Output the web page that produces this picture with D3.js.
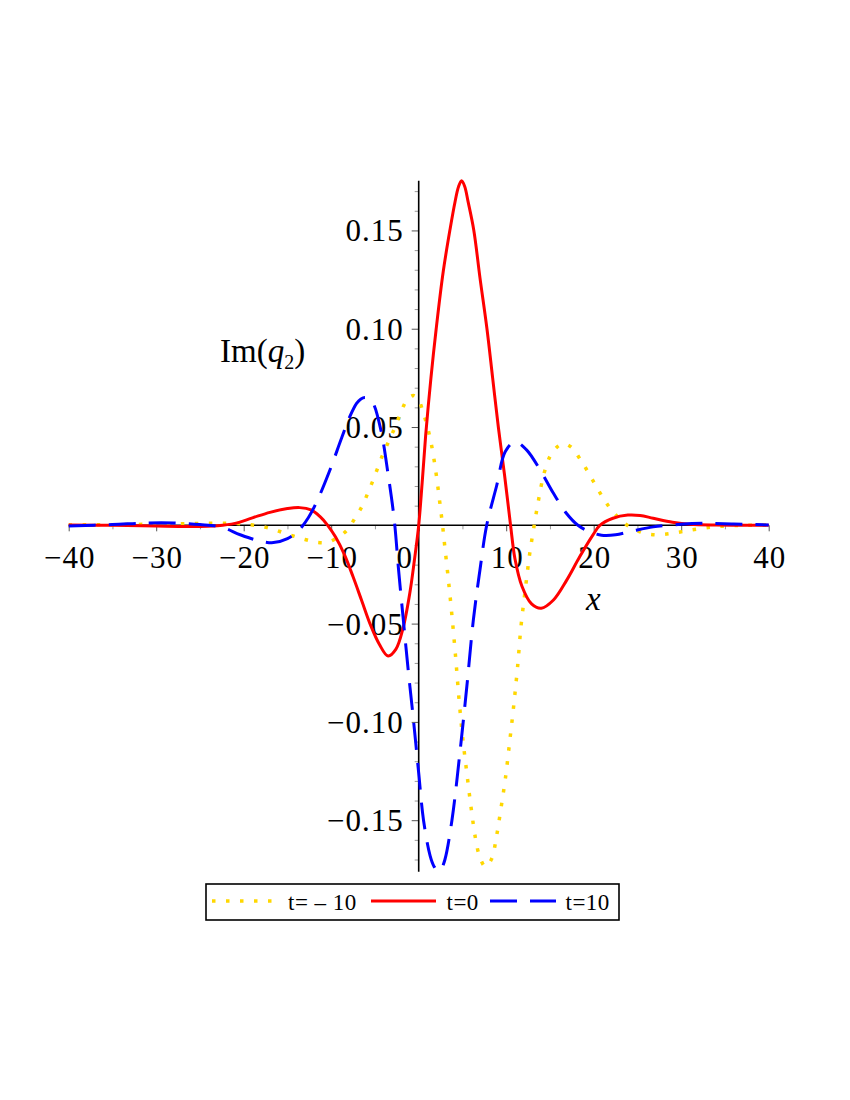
<!DOCTYPE html>
<html><head><meta charset="utf-8">
<script src="https://cdn.jsdelivr.net/npm/d3@7"></script>
<style>body{margin:0;background:#fff} svg{display:block}</style>
</head><body><svg id="c" width="850" height="1100"></svg>
<script>
// ---- data ----
const xMajorTicks = [-40, -30, -20, -10, 0, 10, 20, 30, 40];
const xMinorTicks = [-35, -25, -15, -5, 5, 15, 25, 35];
const yMajorTicks = [-0.15, -0.10, -0.05, 0.05, 0.10, 0.15];
const yMinorTicks = [-0.17,-0.16,-0.14,-0.13,-0.12,-0.11,-0.09,-0.08,-0.07,-0.06,-0.04,-0.03,-0.02,-0.01,
                     0.01,0.02,0.03,0.04,0.06,0.07,0.08,0.09,0.11,0.12,0.13,0.14,0.16,0.17];
const seriesNames = ["t= \u2013 10", "t=0", "t=10"];

// t = -10 (dotted, gold)
const tMinus10 = [
  [-40,0.0002],[-35,0.0003],[-30,0.0006],[-26,0.0009],[-23,0.0011],[-21,0.0010],[-19,0.0002],
  [-17,-0.0015],[-15,-0.0045],[-13,-0.0072],[-11.5,-0.0087],[-10.3,-0.0085],[-9.2,-0.0060],
  [-8.2,-0.0025],[-7.3,0.0035],[-6.5,0.0095],[-5.9,0.0155],[-5.3,0.0220],[-4.7,0.0290],
  [-4.1,0.0360],[-3.4,0.0430],[-2.7,0.0500],[-2.0,0.0580],[-1.3,0.0640],[-0.6,0.0660],
  [0.0,0.0637],[0.5,0.0575],[1.0,0.0500],[1.5,0.0400],[2.0,0.0260],[2.4,0.0120],[2.7,0.0010],
  [3.0,-0.0115],[3.4,-0.0280],[3.8,-0.0460],[4.2,-0.0660],[4.6,-0.0880],[5.0,-0.1070],
  [5.5,-0.1260],[6.0,-0.1440],[6.5,-0.1595],[7.0,-0.1690],[7.6,-0.1735],[8.3,-0.1700],
  [8.9,-0.1580],[9.4,-0.1440],[9.9,-0.1290],[10.4,-0.1100],[10.9,-0.0900],[11.3,-0.0720],
  [11.7,-0.0510],[12.2,-0.0320],[12.7,-0.0140],[13.2,0.0000],[13.7,0.0130],[14.3,0.0260],
  [15.0,0.0350],[15.8,0.0398],[16.6,0.0415],[17.5,0.0395],[18.4,0.0340],[19.3,0.0275],
  [20.2,0.0205],[21.1,0.0138],[22.0,0.0080],[23.0,0.0032],[24.0,-0.0005],[25.6,-0.0038],
  [27.2,-0.0048],[28.8,-0.0042],[30.4,-0.0030],[32,-0.0018],[34,-0.0007],[37,0.0000],[40,0.0001]
];

// t = 0 (solid, red)
const t0 = [
  [-40,0.0002],[-35,0.0000],[-30,-0.0004],[-26,-0.0006],[-23,-0.0002],[-21,0.0010],[-19,0.0038],
  [-17,0.0066],[-15,0.0085],[-13.6,0.0090],[-12.3,0.0078],[-11.3,0.0045],[-10.4,0.0000],
  [-9.5,-0.0060],[-8.5,-0.0148],[-7.5,-0.0262],[-6.5,-0.0385],[-5.5,-0.0508],[-4.5,-0.0605],
  [-3.5,-0.0665],[-2.6,-0.0630],[-1.8,-0.0525],[-1.0,-0.0340],[-0.5,-0.0180],[0,0.0000],
  [0.4,0.0220],[0.8,0.0460],[1.4,0.0750],[2.0,0.1000],[2.8,0.1290],[3.6,0.1510],[4.15,0.1645],
  [4.55,0.1722],[4.9,0.1753],[5.25,0.1725],[5.65,0.1645],[6.3,0.1500],[7.0,0.1260],[7.8,0.1000],
  [8.45,0.0750],[9.1,0.0500],
  [9.8,0.0260],[10.5,0.0000],[11.0,-0.0170],[11.8,-0.0310],[12.9,-0.0400],[14.0,-0.0422],
  [15.4,-0.0380],[16.9,-0.0280],[18.4,-0.0160],[19.9,-0.0050],[20.7,0.0000],[22.2,0.0036],
  [23.9,0.0052],[25.3,0.0050],[26.8,0.0036],[29.0,0.0016],[31.0,0.0005],[34,0.0001],[40,0.0000]
];

// t = 10 (dashed, blue)
const t10 = [
  [-40,-0.0003],[-35,0.0004],[-31,0.0012],[-28,0.0012],[-25,0.0004],[-22.5,-0.0010],
  [-20.4,-0.0048],[-18.3,-0.0078],[-16.6,-0.0088],[-15.0,-0.0068],[-13.8,-0.0030],
  [-12.6,0.0040],[-11.5,0.0135],[-10.2,0.0275],[-8.8,0.0445],[-7.9,0.0550],[-7.1,0.0620],
  [-6.6,0.0643],[-6.15,0.0650],[-5.7,0.0643],[-5.2,0.0620],
  [-4.3,0.0480],[-3.5,0.0260],[-2.8,0.0030],[-2.3,-0.0227],[-1.76,-0.0480],
  [-1.2,-0.0736],[-0.6,-0.0990],[0,-0.1260],[0.55,-0.1500],[1.3,-0.1680],[1.75,-0.1735],
  [2.2,-0.1760],[2.6,-0.1745],
  [3.0,-0.1700],[3.8,-0.1500],[4.7,-0.1160],[5.5,-0.0820],[6.25,-0.0480],[7.0,-0.0227],
  [7.77,0.0000],[8.9,0.0200],[9.9,0.0375],[11.0,0.0425],[12.3,0.0385],[13.9,0.0280],
  [15.4,0.0163],[16.9,0.0060],[18.2,0.0000],[19.5,-0.0032],[20.9,-0.0050],[22.5,-0.0048],
  [24.5,-0.0028],[26.8,-0.0008],[29.9,0.0005],[32.5,0.0010],[36,0.0007],[40,0.0002]
];

// ---- drawing ----
const svg = d3.select("#c");
const FONT = "'Liberation Serif','Times New Roman',serif";

const x = d3.scaleLinear().domain([-40, 40]).range([68.7, 768.7]);
const y = d3.scaleLinear().domain([-0.1762, 0.1753]).range([871.7, 180.7]);

const x0 = x(0), y0 = y(0);

// minor ticks
const gxm = svg.append("g").attr("transform", `translate(0,${y0})`)
  .call(d3.axisBottom(x).tickValues(xMinorTicks).tickSize(4).tickFormat(""));
gxm.select(".domain").remove();
gxm.selectAll(".tick line").attr("stroke", "#999");
const gym = svg.append("g").attr("transform", `translate(${x0},0)`)
  .call(d3.axisLeft(y).tickValues(yMinorTicks).tickSize(4).tickFormat(""));
gym.select(".domain").remove();
gym.selectAll(".tick line").attr("stroke", "#999");

// major ticks
const gx = svg.append("g").attr("transform", `translate(0,${y0})`)
  .call(d3.axisBottom(x).tickValues(xMajorTicks).tickSize(6).tickFormat(""));
gx.select(".domain").remove();
gx.selectAll(".tick line").attr("stroke", "#555");
const gy = svg.append("g").attr("transform", `translate(${x0},0)`)
  .call(d3.axisLeft(y).tickValues(yMajorTicks).tickSize(7).tickFormat(""));
gy.select(".domain").remove();
gy.selectAll(".tick line").attr("stroke", "#555");

// axis lines
svg.append("line").attr("x1", x(-40)).attr("x2", x(40)).attr("y1", y0).attr("y2", y0)
  .attr("stroke", "#000").attr("stroke-width", 1.6);
svg.append("line").attr("x1", x0).attr("x2", x0).attr("y1", y(0.1753)).attr("y2", y(-0.1762))
  .attr("stroke", "#000").attr("stroke-width", 1.6);

// tick labels
const fx = d3.format("d");
svg.append("g").selectAll("text").data(xMajorTicks).join("text")
  .attr("x", d => d === 0 ? x(d) - 14 : x(d) + 1)
  .attr("y", y0 + 42.5)
  .attr("text-anchor", "middle")
  .attr("font-family", FONT).attr("font-size", 31).attr("letter-spacing", 1)
  .text(d => fx(d));
const fy = d3.format(".2f");
svg.append("g").selectAll("text").data(yMajorTicks).join("text")
  .attr("x", x0 - 15)
  .attr("y", d => y(d) + 11)
  .attr("text-anchor", "end")
  .attr("font-family", FONT).attr("font-size", 31).attr("letter-spacing", 1)
  .text(d => fy(d));

// axis titles
const yl = svg.append("text").attr("x", 220).attr("y", 361.5)
  .attr("font-family", FONT).attr("font-size", 33);
yl.append("tspan").text("Im(");
yl.append("tspan").attr("font-style", "italic").text("q");
yl.append("tspan").attr("font-size", 20).attr("dy", 7).text("2");
yl.append("tspan").attr("dy", -7).text(")");
svg.append("text").attr("x", 586).attr("y", 610)
  .attr("font-family", FONT).attr("font-size", 33).attr("font-style", "italic").text("x");

// curves
const line = d3.line().x(d => x(d[0])).y(d => y(d[1])).curve(d3.curveCatmullRom.alpha(0.5));
const styles = [
  {data: tMinus10, color: "#FFD700", dash: "3.5,10.5", w: 3.5},
  {data: t0, color: "#FF0000", dash: null, w: 3},
  {data: t10, color: "#0000FF", dash: "27,13", w: 3}
];
styles.forEach(s => {
  svg.append("path").datum(s.data).attr("d", line)
    .attr("fill", "none").attr("stroke", s.color).attr("stroke-width", s.w)
    .attr("stroke-dasharray", s.dash);
});

// legend
svg.append("rect").attr("x", 206).attr("y", 884).attr("width", 413).attr("height", 36)
  .attr("fill", "#fff").attr("stroke", "#000").attr("stroke-width", 1.6);
const legItems = [
  {lx1: 212, lx2: 273, tx: 288},
  {lx1: 371, lx2: 436, tx: 446.5},
  {lx1: 490, lx2: 556, tx: 565.5}
];
legItems.forEach((it, i) => {
  const s = styles[i];
  svg.append("line").attr("x1", it.lx1).attr("x2", it.lx2).attr("y1", 901).attr("y2", 901)
    .attr("stroke", s.color).attr("stroke-width", s.w).attr("stroke-dasharray", s.dash);
  svg.append("text").attr("x", it.tx).attr("y", 910)
    .attr("font-family", FONT).attr("font-size", 23).attr("letter-spacing", 0.5).text(seriesNames[i]);
});
</script></body></html>
